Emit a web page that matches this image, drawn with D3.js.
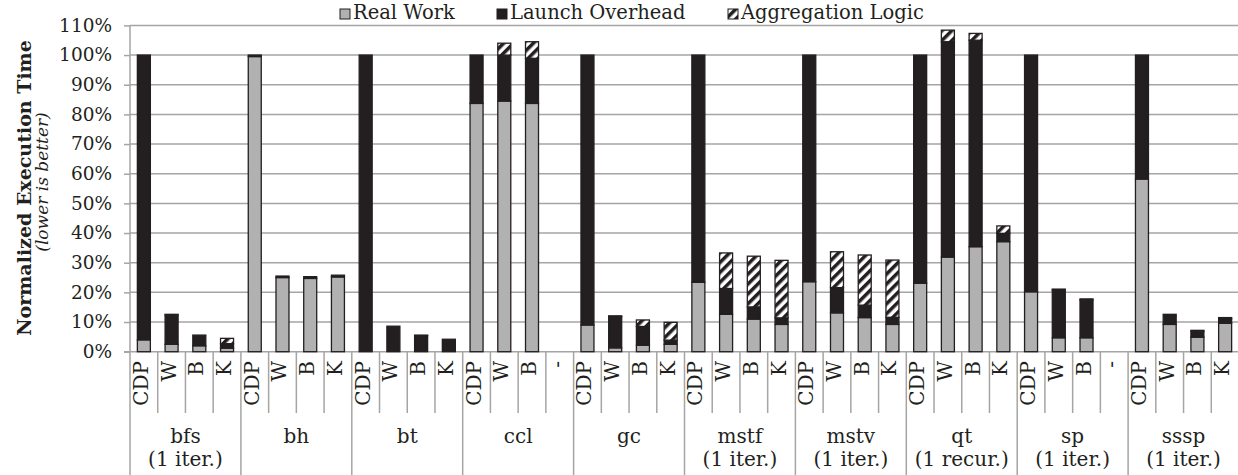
<!DOCTYPE html>
<html><head><meta charset="utf-8">
<script src="https://cdn.jsdelivr.net/npm/d3@7"></script>
<style>
body{margin:0;background:#fff}
svg{display:block}
text{font-family:"DejaVu Serif",serif;fill:#231f20}
</style>
</head><body>
<svg id="chart" width="1238" height="475"></svg>
<script>
// ---------------- data ----------------
const groups = ["bfs","bh","bt","ccl","gc","mstf","mstv","qt","sp","sssp"];
const groupSub = ["(1 iter.)","","","","","(1 iter.)","(1 iter.)","(1 recur.)","(1 iter.)","(1 iter.)"];
const categories = [
  "CDP","W","B","K",  "CDP","W","B","K",  "CDP","W","B","K",  "CDP","W","B","-",
  "CDP","W","B","K",  "CDP","W","B","K",  "CDP","W","B","K",  "CDP","W","B","K",
  "CDP","W","B","-",  "CDP","W","B","K"
];
const realWork = [
  4.0, 2.5, 2.0, 1.2,   99.5, 25.0, 24.7, 25.2,   0, 0, 0, 0,   83.7, 84.5, 83.7, 0,
  9.0, 1.3, 2.2, 2.5,   23.4, 12.6, 11.0, 9.2,   23.6, 13.1, 11.5, 9.2,   23.1, 31.9, 35.4, 37.1,
  20.2, 4.7, 4.7, 0,   58.2, 9.2, 4.9, 9.6
];
const launchOverhead = [
  96.0, 9.8, 3.6, 1.5,   0.5, 0.5, 0.6, 0.6,   100, 8.6, 5.4, 4.2,   16.3, 15.5, 15.2, 0,
  91.0, 10.5, 6.3, 1.4,   76.6, 8.7, 4.1, 2.2,   76.4, 8.5, 4.2, 2.4,   76.9, 72.6, 69.6, 2.8,
  79.8, 16.1, 12.7, 0,   41.8, 3.4, 2.0, 1.5
];
const aggregationLogic = [
  0, 0.3, 0, 1.8,   0, 0, 0, 0,   0, 0, 0.2, 0,   0, 4.0, 5.6, 0,
  0, 0.3, 2.2, 6.0,   0, 12.0, 17.1, 19.4,   0, 12.1, 16.9, 19.3,   0, 3.9, 2.3, 2.5,
  0, 0.3, 0.4, 0,   0, 0, 0.3, 0.4
];
const seriesNames = ["Real Work","Launch Overhead","Aggregation Logic"];
const yTicks = [0,10,20,30,40,50,60,70,80,90,100,110];

// ---------------- layout ----------------
const svg = d3.select("#chart");
const X0 = 130, X1 = 1239, Y0 = 351.7, Y1 = 25.4;
const gridColor = "#a5a5a5", ink = "#231f20";

const defs = svg.append("defs");
const pat = defs.append("pattern").attr("id","hatch")
  .attr("patternUnits","userSpaceOnUse").attr("width",7).attr("height",7)
  .attr("patternTransform","rotate(45)");
pat.append("rect").attr("width",7).attr("height",7).attr("fill","#fff");
pat.append("rect").attr("width",3.5).attr("height",7).attr("fill",ink);

const fills = ["#b1b1b1", ink, "url(#hatch)"];

const idx = d3.range(categories.length);
const x = d3.scaleBand().domain(idx).range([X0, X1]).padding(0);
const y = d3.scaleLinear().domain([0,110]).range([Y0, Y1]);

// gridlines
svg.append("g").selectAll("line").data(yTicks.filter(t=>t>0)).join("line")
  .attr("x1",X0).attr("x2",1238).attr("y1",d=>y(d)).attr("y2",d=>y(d))
  .attr("stroke",gridColor).attr("stroke-width",1.5);

// y axis
const yAxis = d3.axisLeft(y).tickValues(yTicks).tickFormat(d=>d+"%").tickSize(6).tickPadding(12);
const ga = svg.append("g").attr("transform",`translate(${X0},0)`).call(yAxis);
ga.select(".domain").remove();
ga.selectAll(".tick line").attr("stroke",gridColor).attr("stroke-width",1.5);
ga.selectAll(".tick text").attr("font-family","DejaVu Serif").attr("font-size",18.5).attr("fill",ink);
svg.append("line").attr("x1",X0).attr("x2",X0).attr("y1",Y1).attr("y2",475)
  .attr("stroke",gridColor).attr("stroke-width",1.5);
// x axis line
svg.append("line").attr("x1",X0-6).attr("x2",1238).attr("y1",Y0).attr("y2",Y0)
  .attr("stroke",gridColor).attr("stroke-width",1.5);

// category separators
svg.append("g").selectAll("line").data(idx.slice(1)).join("line")
  .attr("x1",d=>x(d)).attr("x2",d=>x(d))
  .attr("y1",Y0).attr("y2",d=> d%4===0 ? 475 : 413)
  .attr("stroke",gridColor).attr("stroke-width",1.5);

// stacked bars
const table = idx.map(i=>({i, r: realWork[i], l: launchOverhead[i], a: aggregationLogic[i]}));
const stack = d3.stack().keys(["r","l","a"]);
const layers = stack(table);
const bw = 13;
svg.append("g").selectAll("g").data(layers).join("g")
  .attr("fill",(d,k)=>fills[k])
  .selectAll("rect").data(d=>d.filter(s=>s[1]-s[0]>0)).join("rect")
  .attr("x",d=>x(d.data.i)+x.bandwidth()/2-bw/2)
  .attr("width",bw)
  .attr("y",d=>y(d[1]))
  .attr("height",d=>y(d[0])-y(d[1]))
  .attr("stroke",ink).attr("stroke-width",1.3);

// category labels
svg.append("g").selectAll("text").data(idx).join("text")
  .attr("transform",d=>`translate(${x(d)+x.bandwidth()/2+4},361) rotate(-90)`)
  .attr("text-anchor","end").attr("font-size",20)
  .text(d=>categories[d]);

// group labels
groups.forEach((g,k)=>{
  const cx = x(k*4) + 2*x.bandwidth();
  svg.append("text").attr("x",cx).attr("y",443).attr("text-anchor","middle")
    .attr("font-size",20).text(g);
  if (groupSub[k]) svg.append("text").attr("x",cx).attr("y",466).attr("text-anchor","middle")
    .attr("font-size",20).text(groupSub[k]);
});

// y title
svg.append("text").attr("transform","translate(31,188) rotate(-90)")
  .attr("text-anchor","middle").attr("font-size",19).attr("font-weight","bold")
  .text("Normalized Execution Time");
svg.append("text").attr("transform","translate(48,182) rotate(-90)")
  .attr("text-anchor","middle").attr("font-size",17).attr("font-style","italic")
  .text("(lower is better)");

// legend
const legX = [340, 497, 728];
seriesNames.forEach((n,k)=>{
  svg.append("rect").attr("x",legX[k]).attr("y",9).attr("width",10).attr("height",10)
    .attr("fill",fills[k]).attr("stroke",ink).attr("stroke-width",1);
  svg.append("text").attr("x",legX[k]+13).attr("y",19).attr("font-size",19.5).text(n);
});
</script>
</body></html>
